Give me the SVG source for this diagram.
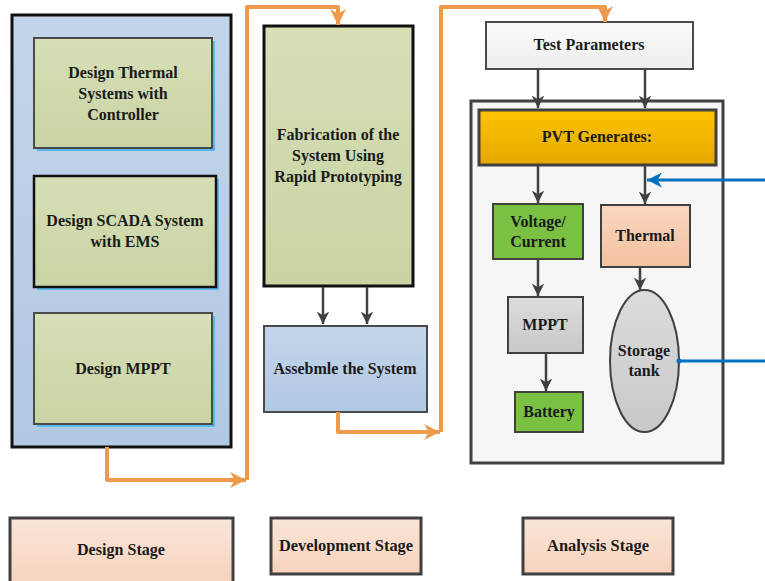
<svg xmlns="http://www.w3.org/2000/svg" width="765" height="581" viewBox="0 0 765 581">
<defs>
<linearGradient id="gGreen" x1="0" y1="0" x2="0" y2="1"><stop offset="0" stop-color="#d7dfb7"/><stop offset="1" stop-color="#c9d3a3"/></linearGradient>
<linearGradient id="gBlue" x1="0" y1="0" x2="0" y2="1"><stop offset="0" stop-color="#c3d5ea"/><stop offset="1" stop-color="#b1c9e2"/></linearGradient>
<linearGradient id="gGold" x1="0" y1="0" x2="0" y2="1"><stop offset="0" stop-color="#ffc400"/><stop offset="1" stop-color="#e3a800"/></linearGradient>
<linearGradient id="gPeach" x1="0" y1="0" x2="0" y2="1"><stop offset="0" stop-color="#fae5d8"/><stop offset="1" stop-color="#f6d3bc"/></linearGradient>
<linearGradient id="gPeach2" x1="0" y1="0" x2="0" y2="1"><stop offset="0" stop-color="#f9d6c0"/><stop offset="1" stop-color="#f3c2a0"/></linearGradient>
<linearGradient id="gGray" x1="0" y1="0" x2="0" y2="1"><stop offset="0" stop-color="#dcdcdc"/><stop offset="1" stop-color="#c8c8c8"/></linearGradient>
<linearGradient id="gWhite" x1="0" y1="0" x2="0" y2="1"><stop offset="0" stop-color="#fbfbfb"/><stop offset="1" stop-color="#ededed"/></linearGradient>
<marker id="aDark" viewBox="0 0 10 10" refX="10" refY="5" markerWidth="5" markerHeight="5" orient="auto" markerUnits="strokeWidth"><path d="M0,0 L10,5 L0,10 L3,5 z" fill="#404040"/></marker>
<marker id="aOrange" viewBox="0 0 10 10" refX="10" refY="5" markerWidth="4" markerHeight="4" orient="auto" markerUnits="strokeWidth"><path d="M0,0 L10,5 L0,10 L3,5 z" fill="#ee9a4d"/></marker>
<marker id="aBlue" viewBox="0 0 10 10" refX="10" refY="5" markerWidth="5" markerHeight="5" orient="auto" markerUnits="strokeWidth"><path d="M0,0 L10,5 L0,10 L3,5 z" fill="#0070c0"/></marker>
</defs>
<style>
text{font-family:"Liberation Serif","Times New Roman",serif;font-weight:bold;font-size:16px;fill:#1a1a1a;text-anchor:middle}
.dark{stroke:#404040;stroke-width:2.5;fill:none}
.org{stroke:#ee9a4d;stroke-width:4;fill:none;stroke-linejoin:round}
.blu{stroke:#0070c0;stroke-width:3;fill:none}
.shadow{fill:#5bb8ef}
</style>
<rect width="765" height="581" fill="#ffffff"/>

<g id="design-stage-group">
<rect x="12" y="15" width="219" height="432" fill="url(#gBlue)" stroke="#111" stroke-width="3"/>
</g>
<g id="design-thermal">
<rect x="37" y="41" width="178" height="110" class="shadow"/>
<rect x="34" y="38" width="178" height="110" fill="url(#gGreen)" stroke="#4a4a4a" stroke-width="2"/>
<text x="123" y="78">Design Thermal</text><text x="123" y="99">Systems with</text><text x="123" y="120">Controller</text>
</g>
<g id="design-scada">
<rect x="37" y="179" width="182" height="111" class="shadow"/>
<rect x="34" y="176" width="182" height="111" fill="url(#gGreen)" stroke="#111" stroke-width="2.5"/>
<text x="125" y="226">Design SCADA System</text><text x="125" y="247">with EMS</text>
</g>
<g id="design-mppt">
<rect x="37" y="316" width="178" height="111" class="shadow"/>
<rect x="34" y="313" width="178" height="111" fill="url(#gGreen)" stroke="#4a4a4a" stroke-width="2"/>
<text x="123" y="374">Design MPPT</text>
</g>

<g id="fabrication">
<rect x="264" y="26" width="149" height="260" fill="url(#gGreen)" stroke="#111" stroke-width="3"/>
<text x="338" y="140">Fabrication of the</text><text x="338" y="161">System Using</text><text x="338" y="182">Rapid Prototyping</text>
</g>
<g id="assemble">
<rect x="264" y="326" width="163" height="86" fill="url(#gBlue)" stroke="#4a4a4a" stroke-width="2"/>
<text x="345" y="374">Assebmle the System</text>
</g>

<g id="test-parameters">
<rect x="486" y="22" width="207" height="47" fill="url(#gWhite)" stroke="#4a4a4a" stroke-width="2"/>
<text x="589" y="50">Test Parameters</text>
</g>
<g id="analysis-group">
<rect x="471" y="101" width="252" height="362" fill="#f6f6f6" stroke="#404040" stroke-width="3"/>
</g>
<g id="pvt">
<rect x="479" y="110" width="237" height="55" fill="url(#gGold)" stroke="#404040" stroke-width="3"/>
<text x="597" y="142">PVT Generates:</text>
</g>
<g id="voltage-current">
<rect x="493" y="204" width="90" height="55" fill="#7ac143" stroke="#404040" stroke-width="2"/>
<text x="538" y="227">Voltage/</text><text x="538" y="247">Current</text>
</g>
<g id="thermal">
<rect x="601" y="205" width="89" height="62" fill="url(#gPeach2)" stroke="#404040" stroke-width="2"/>
<text x="645" y="241">Thermal</text>
</g>
<g id="mppt">
<rect x="508" y="297" width="75" height="56" fill="url(#gGray)" stroke="#404040" stroke-width="2"/>
<text x="545" y="330">MPPT</text>
</g>
<g id="battery">
<rect x="515" y="392" width="68" height="40" fill="#7ac143" stroke="#404040" stroke-width="2"/>
<text x="549" y="417">Battery</text>
</g>
<g id="storage-tank">
<ellipse cx="644.5" cy="361" rx="34.5" ry="71" fill="url(#gGray)" stroke="#404040" stroke-width="2"/>
<text x="644" y="356">Storage</text><text x="644" y="376">tank</text>
</g>

<g id="stage-labels">
<g id="label-design"><rect x="10" y="518" width="223" height="66" fill="url(#gPeach)" stroke="#404040" stroke-width="3"/><text x="121" y="555" textLength="88" lengthAdjust="spacingAndGlyphs">Design Stage</text></g>
<g id="label-development"><rect x="271" y="518" width="150" height="56" fill="url(#gPeach)" stroke="#404040" stroke-width="3"/><text x="346" y="551" textLength="134" lengthAdjust="spacingAndGlyphs">Development Stage</text></g>
<g id="label-analysis"><rect x="523" y="518" width="150" height="56" fill="url(#gPeach)" stroke="#404040" stroke-width="3"/><text x="598" y="551" textLength="102" lengthAdjust="spacingAndGlyphs">Analysis Stage</text></g>
</g>

<g id="connectors">
<path class="org" d="M107,447 V480 H246" marker-end="url(#aOrange)"/>
<path class="org" d="M247,480 V7 H338 V25" marker-end="url(#aOrange)"/>
<path class="org" d="M338,412 V432 H440" marker-end="url(#aOrange)"/>
<path class="org" d="M441,432 V7 H605 V22" marker-end="url(#aOrange)"/>
<path class="dark" d="M323,287 V324" marker-end="url(#aDark)"/>
<path class="dark" d="M367,287 V324" marker-end="url(#aDark)"/>
<path class="dark" d="M538,69 V108" marker-end="url(#aDark)"/>
<path class="dark" d="M645,69 V108" marker-end="url(#aDark)"/>
<path class="dark" d="M538,166 V203" marker-end="url(#aDark)"/>
<path class="dark" d="M645,166 V204" marker-end="url(#aDark)"/>
<path class="dark" d="M538,260 V296" marker-end="url(#aDark)"/>
<path class="dark" d="M546,354 V391" marker-end="url(#aDark)"/>
<path class="dark" d="M640,268 V290" marker-end="url(#aDark)"/>
<path class="blu" d="M765,180 H647" marker-end="url(#aBlue)"/>
<path class="blu" d="M679,361 H765"/>
<circle cx="679" cy="361" r="2.5" fill="#0070c0"/>
</g>
</svg>
